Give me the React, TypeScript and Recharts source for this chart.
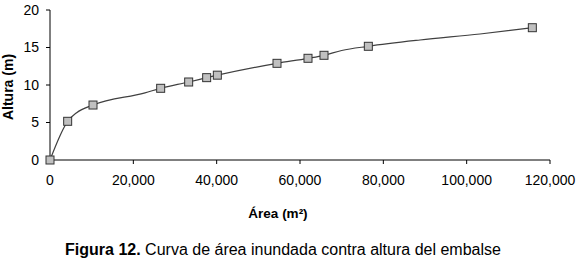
import React from 'react';
import { LineChart, Line, XAxis, YAxis } from 'recharts';

const areas = [0, 4240, 6400, 10320, 22800, 26560, 33280, 37600, 40160, 54480, 61920, 65760, 70000, 76400, 88800, 103200, 115760];
const heights = [0, 5.16, 6.31, 7.33, 8.95, 9.56, 10.4, 10.98, 11.31, 12.89, 13.56, 13.96, 14.6, 15.16, 16.0, 16.8, 17.64];
const marked = [true, true, false, true, false, true, true, true, true, true, true, true, false, true, false, false, true];
const xTicks = [0, 20000, 40000, 60000, 80000, 100000, 120000];
const yTicks = [0, 5, 10, 15, 20];

const data = areas.map((a, i) => ({ area: a, height: heights[i], marked: marked[i] }));

const font = '"Liberation Sans", Arial, sans-serif';

const SquareDot = (props: any) => {
  const { cx, cy, payload, index } = props;
  if (!payload || !payload.marked) return <g key={`d${index}`} />;
  return (
    <rect key={`d${index}`} x={cx - 4} y={cy - 4} width={8} height={8} fill="#c0c0c0" stroke="#333" strokeWidth={1} />
  );
};

const fmt = (v: number) => v.toLocaleString('en-US');

export default function App() {
  return (
    <div style={{ position: 'absolute', left: 0, top: 0, width: 580, height: 262, background: '#fff', fontFamily: font, overflow: 'hidden' }}>
      <LineChart width={580} height={262} data={data} margin={{ top: 10, right: 30, bottom: 72, left: 0 }}>
        <XAxis
          dataKey="area"
          type="number"
          domain={[0, 120000]}
          ticks={xTicks}
          tickFormatter={fmt}
          height={30}
          stroke="#000"
          tickLine={{ stroke: '#000' }}
          tickSize={4}
          tickMargin={11}
          tick={{ fill: '#000', fontSize: 14, fontFamily: font }}
          interval={0}
        />
        <YAxis
          dataKey="height"
          type="number"
          domain={[0, 20]}
          ticks={yTicks}
          width={50}
          stroke="#000"
          tickSize={4}
          tickMargin={7}
          tick={{ fill: '#000', fontSize: 14, fontFamily: font }}
          interval={0}
        />
        <Line
          type="monotone"
          dataKey="height"
          stroke="#404040"
          strokeWidth={1.2}
          dot={<SquareDot />}
          activeDot={false}
          isAnimationActive={false}
        />
      </LineChart>
      <div style={{ position: 'absolute', left: 8, top: 87, width: 0, height: 0 }}>
        <div style={{ position: 'absolute', left: 0, top: 0, transform: 'translate(-50%,-50%) rotate(-90deg)', whiteSpace: 'nowrap', fontWeight: 'bold', fontSize: 14, lineHeight: '14px' }}>
          Altura (m)
        </div>
      </div>
      <div style={{ position: 'absolute', left: 178, width: 200, top: 206, textAlign: 'center', fontWeight: 'bold', fontSize: 13.5, lineHeight: '16px' }}>
        Área (m²)
      </div>
      <div style={{ position: 'absolute', left: 0, width: 566, top: 241, textAlign: 'center', fontSize: 16, lineHeight: '18px', color: '#000', whiteSpace: 'nowrap' }}>
        <b>Figura 12.</b> Curva de área inundada contra altura del embalse
      </div>
    </div>
  );
}
